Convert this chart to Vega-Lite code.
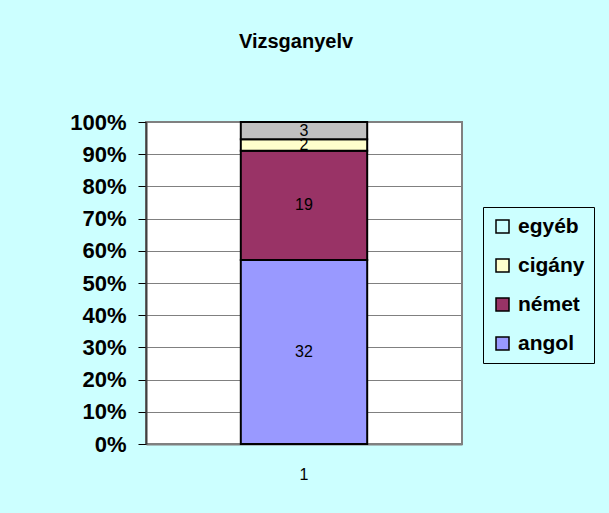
{
  "$schema": "https://vega.github.io/schema/vega-lite/v6.json",
  "width": 316,
  "height": 322,
  "autosize": {"type": "none"},
  "padding": {"left": 146, "top": 122, "right": 147, "bottom": 69},
  "background": "#CCFFFF",
  "title": {"text": "Vizsganyelv", "fontSize": 20, "fontWeight": "bold", "font": "Liberation Sans", "color": "black", "frame": "group", "anchor": "middle", "baseline": "alphabetic", "offset": 43, "dx": -8},
  "data": {"values": [
    {"cat": "1", "nyelv": "angol", "n": 32, "ord": 1},
    {"cat": "1", "nyelv": "német", "n": 19, "ord": 2},
    {"cat": "1", "nyelv": "cigány", "n": 2, "ord": 3},
    {"cat": "1", "nyelv": "egyéb", "n": 3, "ord": 4}
  ]},
  "transform": [
    {"stack": "n", "groupby": ["cat"], "sort": [{"field": "ord", "order": "ascending"}], "offset": "normalize", "as": ["y0", "y1"]},
    {"calculate": "(datum.y0 + datum.y1) / 2", "as": "ymid"}
  ],
  "encoding": {
    "x": {
      "field": "cat", "type": "nominal",
      "scale": {"paddingInner": 0, "paddingOuter": 0},
      "axis": {"title": null, "labelAngle": 0, "labelFont": "Liberation Sans", "labelFontSize": 16, "labelFontWeight": "normal", "labelColor": "black", "ticks": false, "labelPadding": 22, "domainColor": "#808080", "domainWidth": 2}
    }
  },
  "layer": [
    {
      "mark": {"type": "bar", "width": {"band": 0.4}, "stroke": "black", "strokeWidth": 2, "opacity": 1},
      "encoding": {
        "y": {"field": "y0", "type": "quantitative", "scale": {"domain": [0, 1], "nice": false},
          "axis": {"title": null, "values": [0, 0.1, 0.2, 0.3, 0.4, 0.5, 0.6, 0.7, 0.8, 0.9, 1], "format": ".0%", "labelOverlap": false, "labelBound": false, "labelFont": "Liberation Sans", "labelFontSize": 22, "labelFontWeight": "bold", "labelColor": "black", "labelPadding": 12, "tickSize": 8, "tickColor": "black", "tickWidth": 1, "domainColor": "#404040", "domainWidth": 2, "grid": true, "gridColor": "#808080", "gridWidth": 1}},
        "y2": {"field": "y1"},
        "color": {
          "condition": {"test": "datum.nyelv === 'egyéb'", "value": "#C0C0C0"},
          "field": "nyelv", "type": "nominal",
          "scale": {"domain": ["egyéb", "cigány", "német", "angol"], "range": ["#CCFFFF", "#FFFFCC", "#993366", "#9999FF"]},
          "legend": {"title": null, "orient": "none", "legendX": 337, "legendY": 85, "strokeColor": "black", "padding": 9, "symbolType": "square", "symbolSize": 169, "symbolStrokeColor": "black", "symbolStrokeWidth": 1.5, "symbolOpacity": 1, "labelFont": "Liberation Sans", "labelFontSize": 21, "labelFontWeight": "bold", "labelColor": "black", "labelOffset": 5, "rowPadding": 17}
        }
      }
    },
    {
      "mark": {"type": "text", "fontSize": 16, "font": "Liberation Sans", "color": "black"},
      "encoding": {
        "y": {"field": "ymid", "type": "quantitative",
          "axis": {"title": null, "values": [0, 0.1, 0.2, 0.3, 0.4, 0.5, 0.6, 0.7, 0.8, 0.9, 1], "format": ".0%", "labelOverlap": false, "labelBound": false, "labelFont": "Liberation Sans", "labelFontSize": 22, "labelFontWeight": "bold", "labelColor": "black", "labelPadding": 12, "tickSize": 8, "tickColor": "black", "tickWidth": 1, "domainColor": "#404040", "domainWidth": 2, "grid": true, "gridColor": "#808080", "gridWidth": 1}},
        "text": {"field": "n", "type": "quantitative"}
      }
    }
  ],
  "config": {
    "view": {"stroke": "#808080", "strokeWidth": 2, "fill": "white"}
  }
}
